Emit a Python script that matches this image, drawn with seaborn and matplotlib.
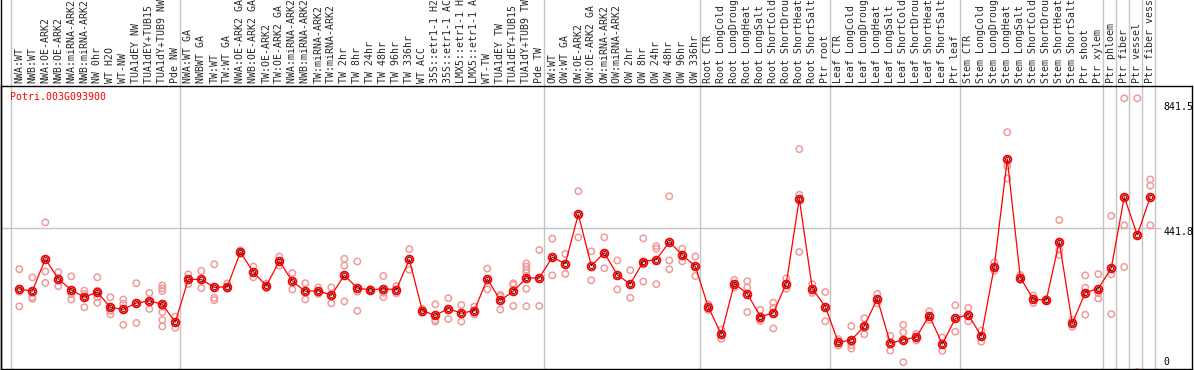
import pandas as pd
import seaborn as sns
import matplotlib.pyplot as plt
from matplotlib.lines import Line2D

sns.set_theme(style="white")
plt.rcParams['font.family'] = ['DejaVu Sans Mono', 'DejaVu Sans']

gene = "Potri.003G093900"

conditions = [
    # NW
    "NWA:WT", "NWB:WT", "NWA:OE-ARK2", "NWB:OE-ARK2", "NWA:miRNA-ARK2", "NWB:miRNA-ARK2",
    "NW 0hr", "WT H2O", "WT-NW", "TUA1dEY NW", "TUA1dEY+TUB15 NW", "TUA1dY+TUB9 NW", "Pde NW",
    # TW
    "NWA:WT GA", "NWBWT GA", "TW:WT", "TW:WT GA", "NWA:OE-ARK2 GA", "NWB:OE-ARK2 GA",
    "TW:OE-ARK2", "TW:OE-ARK2 GA", "NWA:miRNA-ARK2 GA", "NWB:miRNA-ARK2 GA", "TW:miRNA-ARK2",
    "TW:miRNA-ARK2 GA", "TW 2hr", "TW 8hr", "TW 24hr", "TW 48hr", "TW 96hr", "TW 336hr", "WT ACC",
    "35S::etr1-1 H2O", "35S::etr1-1 ACC", "LMX5::etr1-1 H2O", "LMX5::etr1-1 ACC", "WT-TW",
    "TUA1dEY TW", "TUA1dEY+TUB15 TW", "TUA1dY+TUB9 TW", "Pde TW",
    # OW
    "OW:WT", "OW:WT GA", "OW:OE-ARK2", "OW:OE-ARK2 GA", "OW:miRNA-ARK2", "OW:miRNA-ARK2 GA",
    "OW 2hr", "OW 8hr", "OW 24hr", "OW 48hr", "OW 96hr", "OW 336hr",
    # root
    "Root CTR", "Root LongCold", "Root LongDrought", "Root LongHeat", "Root LongSalt",
    "Root ShortCold", "Root ShortDrought", "Root ShortHeat", "Root ShortSalt", "Ptr root",
    # leaf
    "Leaf CTR", "Leaf LongCold", "Leaf LongDrought", "Leaf LongHeat", "Leaf LongSalt",
    "Leaf ShortCold", "Leaf ShortDrought", "Leaf ShortHeat", "Leaf ShortSalt", "Ptr leaf",
    # stem
    "Stem CTR", "Stem LongCold", "Stem LongDrought", "Stem LongHeat", "Stem LongSalt",
    "Stem ShortCold", "Stem ShortDrought", "Stem ShortHeat", "Stem ShortSalt", "Ptr shoot", "Ptr xylem",
    "Ptr phloem", "Ptr fiber", "Ptr vessel", "Ptr fiber vessel",
]

group_sizes = [13, 28, 12, 10, 10, 11, 1, 1, 1, 1]

replicates = [
    [316, 247, 202], [291, 230, 225], [460, 309, 274], [307, 264], [294, 240, 223],
    [250, 240, 199], [291, 250, 230, 213], [230, 188, 177], [223, 210, 145], [273, 151],
    [243, 194], [266, 257, 249, 201, 184, 160, 140], [170, 136],
    [300, 270], [311, 258], [331, 228, 221], [272, 258, 256], [374, 366, 364],
    [324, 291], [272, 258], [355, 327], [304, 254], [273, 223], [260, 240], [260, 211],
    [348, 327, 217], [340, 247, 188], [255, 249], [295, 244, 230], [264, 242], [378, 314],
    [194, 183], [208, 160, 155], [227, 163], [206, 155], [201, 177], [318, 254],
    [237, 232, 192], [273, 268, 203], [334, 324, 314, 306, 256, 202], [375, 203],
    [410, 297], [363, 302], [556, 414], [371, 282], [414, 319], [343, 254], [313, 228],
    [411, 330, 278], [387, 379, 270], [540, 343, 316], [379, 340], [355, 295],
    [208, 191], [130, 102], [283, 260], [279, 260, 184], [191, 163, 157], [213, 197, 134],
    [288, 256], [685, 545, 369], [270, 243], [246, 156],
    [101, 81], [141, 82, 72], [165, 116], [240, 211], [111, 66], [145, 122, 30], [117, 97],
    [187, 160], [106, 65], [205, 124],
    [197, 156], [127, 93], [337, 311], [737, 633, 595], [298, 283], [235, 212], [224, 218],
    [467, 375, 360], [160, 139], [297, 259, 176], [301, 242, 226],
    [480, 300, 178], [841.5, 451, 323], [841.5, 0], [592, 573, 451],
]

scale_labels = [841.5, 441.8, 0]

rows = [(c, v) for c, vals in zip(conditions, replicates) for v in vals]
df = pd.DataFrame(rows, columns=["condition", "expression"])

fig = plt.figure(figsize=(11.94, 3.70), dpi=100)
ax = fig.add_axes([1 / 1194, 1 / 370, 1191 / 1194, 283 / 370])

grey = "#c4c4c4"
# group separators, running up through the label area
start = 0
for n in [0] + group_sizes:
    start += n
    ax.axvline(start - 0.66, ymin=0, ymax=369 / 283, color=grey, lw=1, clip_on=False, zorder=0)
ax.hlines(scale_labels[1], -1.41, 87.8, color=grey, lw=1, zorder=0)

sns.stripplot(data=df, x="condition", y="expression", order=conditions, jitter=False,
              size=4.6, color="#f09a9a", edgecolor="#f09a9a", facecolors="none",
              linewidth=1.1, ax=ax, zorder=2)
for coll in ax.collections:
    coll.set_facecolor("none")

sns.pointplot(data=df, x="condition", y="expression", order=conditions, errorbar=None,
              color="red", markers="o", markersize=5.5, markeredgewidth=1.4,
              linewidth=0.9, ax=ax, zorder=3)
# dark inner ring of the mean markers
sns.pointplot(data=df, x="condition", y="expression", order=conditions, errorbar=None,
              color="#400000", markers="o", markersize=3.0, markeredgewidth=0.6,
              linestyles="none", ax=ax, zorder=4)
for line in ax.lines:
    line.set_markerfacecolor("none")

ax.set_xlim(-1.41, 90.21)
ax.set_ylim(9.2, 879.3)
ax.set_xlabel("")
ax.set_ylabel("")
ax.set_yticks([])
ax.xaxis.tick_top()
ax.set_xticks(range(len(conditions)))
ax.set_xticklabels(conditions, rotation=90, fontsize=7.1)
ax.tick_params(axis="x", length=0, pad=2.2, top=True, labeltop=True, bottom=False, labelbottom=False)
for s in ax.spines.values():
    s.set_color("black")
    s.set_linewidth(1)

ax.text(0.0076, 0.979, gene, transform=ax.transAxes, color="red", fontsize=7.1, va="top", ha="left")
for val, dy in zip(scale_labels, [-6.3, -2.9, 7.4]):
    ax.annotate(f"{val:g}", (88.0, val), xytext=(0, dy), textcoords="offset points",
                fontsize=7.1, va="center", ha="left", color="black", annotation_clip=False)

fig.add_artist(Line2D([1 / 1194, 1 / 1194], [0, 1], color="black", lw=1))

fig.savefig("out.png", dpi=100)
